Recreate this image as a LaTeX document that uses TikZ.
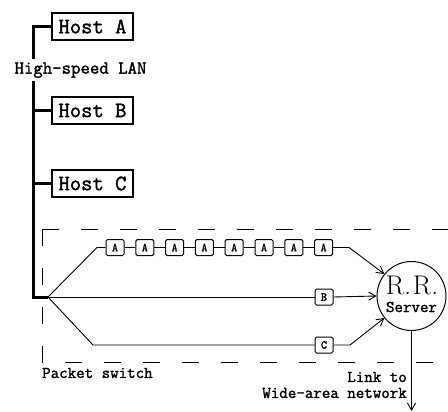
\documentclass[tikz,border=0pt]{standalone}
\usepackage{fontspec}
\newfontfamily\tw{Latin Modern Mono}[FakeBold=1.6]
\usetikzlibrary{arrows.meta}
\begin{document}
\begin{tikzpicture}[x=1pt,y=-1pt,
  lan/.style={line width=3pt},
  wire/.style={line width=0.9pt},
  host/.style={draw,line width=1.2pt,minimum width=81pt,minimum height=27pt,inner sep=0pt,font=\tw\fontsize{22}{22}\selectfont},
  pkt/.style={draw,line width=1pt,rounded corners=1.5pt,minimum width=18pt,minimum height=16pt,inner sep=0pt,fill=white,font=\tw\fontsize{12}{12}\selectfont},
  lbl/.style={inner sep=0pt,font=\tw\fontsize{16.5}{16.5}\selectfont},
  arr/.style={wire,-{Straight Barb[length=7pt,width=8pt]}},
  dashbox/.style={line width=1pt,dash pattern=on 17pt off 22pt}
]
\useasboundingbox (0,0) rectangle (448,412);

% hosts
\node[host] (hA) at (92.5,26.5) {Host A};
\node[host] (hB) at (92.5,110.5) {Host B};
\node[host] (hC) at (92.5,183.5) {Host C};

% LAN
\coordinate (lanTop) at (33,26.5);
\coordinate (lanBot) at (33,297);
\coordinate (fan) at (48,297);
\draw[lan] (hA.west) -- (lanTop) -- (lanBot) -- (fan);
\draw[lan] (hB.west) -- (hB.west -| lanTop);
\draw[lan] (hC.west) -- (hC.west -| lanTop);
\node[lbl,fill=white,inner ysep=3pt,inner xsep=1pt,font=\tw\fontsize{18.3}{18.3}\selectfont] (lanlbl) at (80.5,70) {High-speed LAN};

% packet switch box
\draw[dashbox] (42,229) -- (448,229);
\draw[dashbox] (42,229) -- (42,362) -- (448,362);
\node[lbl,anchor=west] (ps) at (42,373) {Packet switch};

% server
\node[draw,circle,line width=1pt,minimum size=69pt,inner sep=0pt] (rr) at (411.5,296) {};
\node[inner sep=0pt,font=\fontsize{27}{27}\selectfont] (rrt) at (412,285.5) {R.\kern2pt R.};
\node[lbl] (srv) at (411.5,307) {Server};

% A packets
\foreach \i in {1,...,8} {
  \node[pkt] (a\i) at ({115+29.8*(\i-1)},247.5) {A};
}
\foreach \i [evaluate=\i as \j using int(\i+1)] in {1,...,7} {
  \draw[wire] (a\i.east) -- (a\j.west);
}
\coordinate (up1) at (97,247.5);
\coordinate (up2) at (349,247.5);
\draw[wire] (fan) -- (up1) -- (a1.west);
\draw[arr] (a8.east) -- (up2) -- (rr.141);

% B packet
\node[pkt] (b) at (324,297) {B};
\draw[wire] (fan) -- (b.west);
\draw[arr] (b.east) -- (rr.west);

% C packet
\node[pkt] (c) at (324,345) {C};
\coordinate (lo1) at (93,345);
\coordinate (lo2) at (350,345);
\draw[wire] (fan) -- (lo1) -- (c.west);
\draw[arr] (c.east) -- (lo2) -- (rr.219);

% WAN link
\coordinate (wanEnd) at (411.5,411);
\draw[arr] (rr.south) -- (wanEnd);
\node[lbl,anchor=east] (link) at (407,377) {Link to};
\node[lbl,anchor=east] (wan) at (407,393) {Wide-area network};
\end{tikzpicture}
\end{document}
